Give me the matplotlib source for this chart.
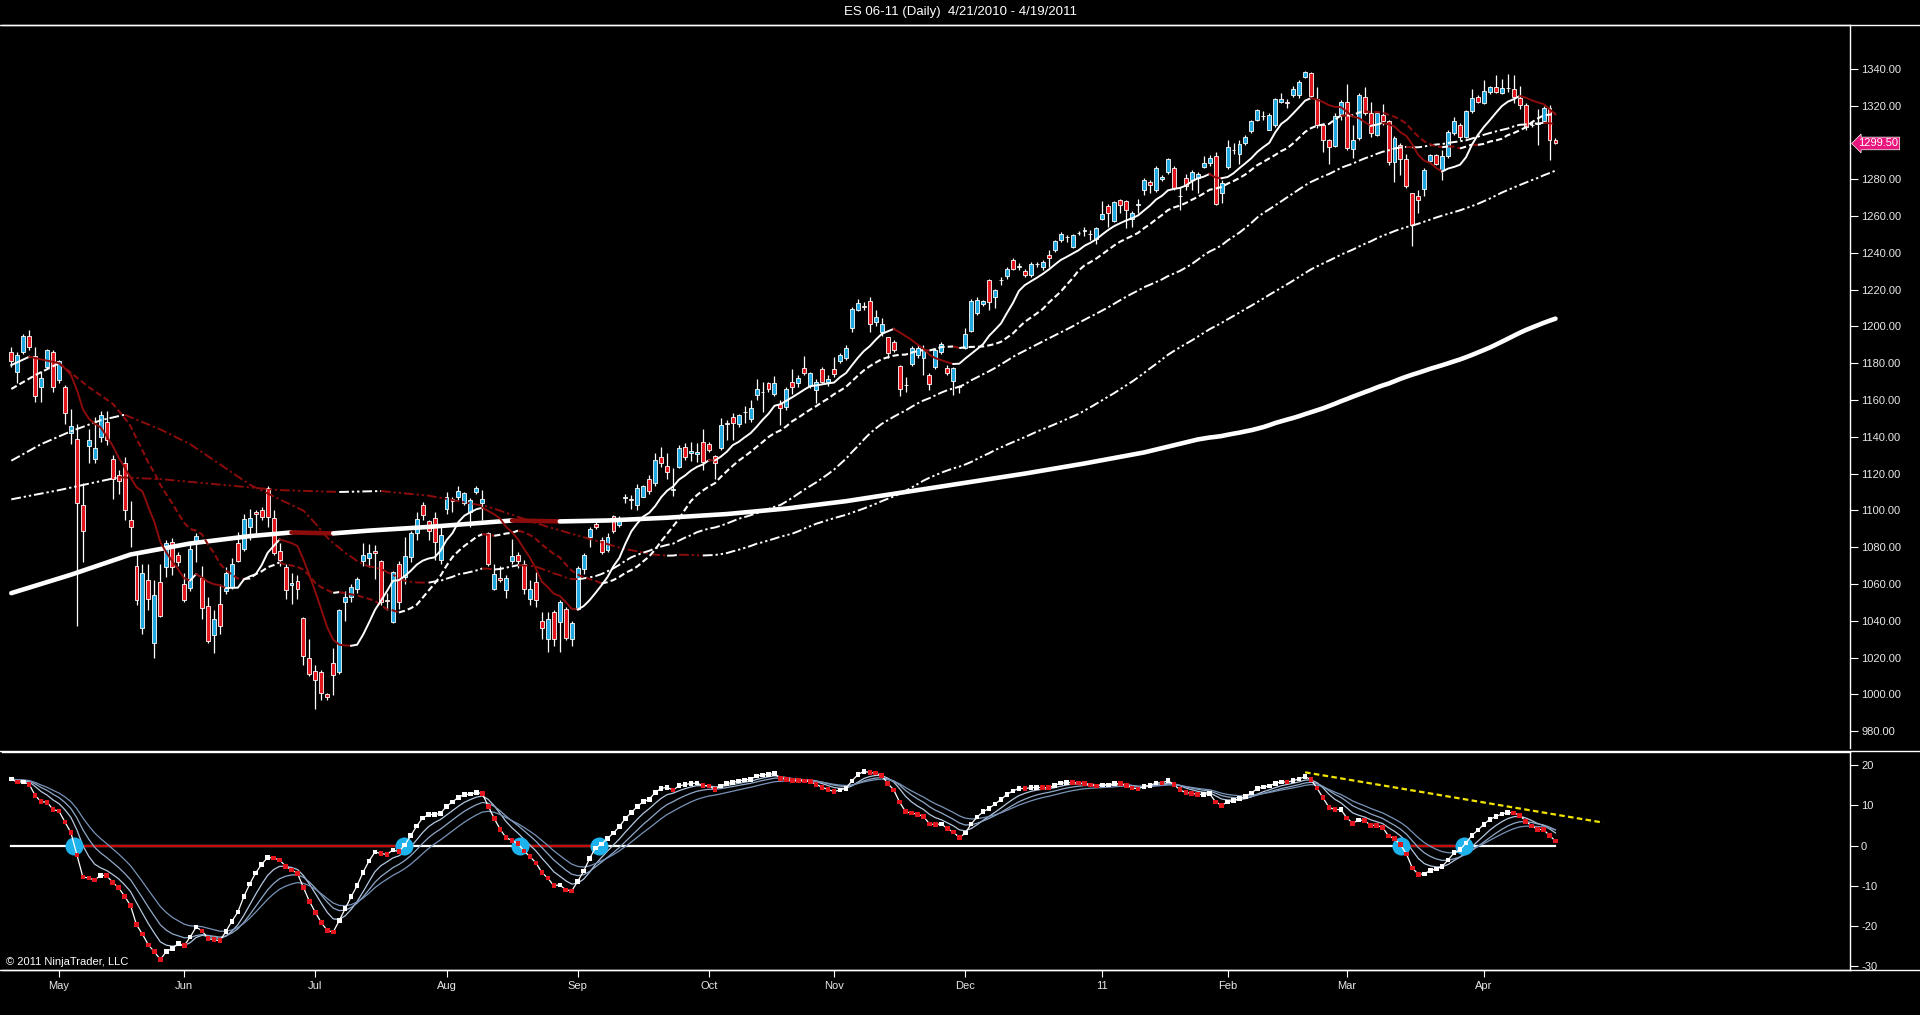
import numpy as np
import pandas as pd
import matplotlib
matplotlib.use("Agg")
import matplotlib.pyplot as plt
from matplotlib.lines import Line2D

plt.rcParams['font.family'] = ['Liberation Sans', 'DejaVu Sans']

title = 'ES 06-11 (Daily)  4/21/2010 - 4/19/2011'

# daily bars (one value per bar)
opens = [
    1186, 1175, 1186, 1195, 1184, 1167, 1178, 1186, 1171, 1167,
    1142, 1139, 1103, 1135, 1128, 1140, 1148, 1128, 1119, 1125.5,
    1095, 1070, 1036, 1062, 1028, 1061, 1069, 1083, 1076, 1060,
    1058, 1083, 1063, 1048, 1032, 1049, 1056, 1058.5, 1082, 1079,
    1091, 1099, 1100, 1112, 1096, 1078, 1069, 1059.5, 1061.5, 1041.5,
    1020, 1012.5, 1012, 1000, 1017, 1012, 1050, 1053, 1057, 1072.5,
    1074, 1078, 1072.5, 1051.5, 1039.5, 1071, 1064, 1074.5, 1087.5, 1103,
    1094, 1096, 1073, 1101, 1106, 1107, 1104, 1099, 1110, 1104,
    1087.5, 1057.5, 1063.5, 1056.5, 1072.5, 1075.5, 1071, 1052, 1061, 1040,
    1030, 1045, 1039.5, 1046.5, 1030, 1046.5, 1068, 1085.5, 1092.5, 1084,
    1078.5, 1097, 1092, 1106.5, 1106, 1103, 1107.5, 1117, 1115, 1129,
    1124, 1111, 1123.5, 1134.5, 1131, 1130.5, 1137, 1136, 1129.5, 1134,
    1147, 1151, 1147, 1153.5, 1149.5, 1163, 1164.5, 1169, 1163.5, 1158,
    1156, 1170, 1169, 1177.5, 1167.5, 1165.5, 1177, 1170, 1177, 1181,
    1183, 1199, 1209, 1211, 1214, 1202.5, 1197, 1194, 1191.5, 1178.5,
    1168, 1179.5, 1184.5, 1183, 1173.5, 1178, 1186, 1177.5, 1170.5, 1167,
    1188.5, 1197.5, 1207.5, 1212, 1225.5, 1216, 1225, 1227.5, 1236, 1232.5,
    1230, 1228, 1234, 1232.5, 1239, 1241.5, 1247, 1248.5, 1243, 1251,
    1252, 1250.5, 1247.5, 1258.5, 1265.5, 1257.5, 1268.5, 1268, 1258.5, 1266,
    1274, 1278.5, 1274, 1280, 1284, 1286, 1271, 1280.5, 1279.5, 1280.5,
    1286.5, 1289, 1292.5, 1272.5, 1286.5, 1296, 1294, 1300, 1306, 1312.5,
    1314.5, 1307, 1309.5, 1322, 1322, 1326, 1326, 1335.5, 1338, 1323.5,
    1309.5, 1301.5, 1298, 1315.5, 1322, 1296.5, 1302.5, 1325, 1316, 1304,
    1315, 1311.5, 1289.5, 1298.5, 1291, 1272.5, 1271, 1275, 1290, 1293,
    1285, 1292.5, 1305, 1309.5, 1303, 1317, 1325, 1321.5, 1327.5, 1330,
    1327, 1329.5, 1329, 1324, 1320.5, 1309.5, 1310, 1311.5, 1319, 1301.5,
]
highs = [
    1189, 1186, 1196, 1198, 1189, 1176, 1188, 1187, 1182, 1168,
    1155, 1147, 1115, 1144, 1151, 1154, 1154, 1130, 1122, 1129,
    1105, 1077, 1071, 1071, 1062, 1071, 1084, 1085, 1077.5, 1066,
    1082, 1087.5, 1070, 1053, 1046, 1060, 1069, 1074, 1088, 1098,
    1101, 1100, 1102, 1113, 1100, 1082, 1071, 1066, 1065, 1042,
    1030, 1016, 1013, 1000.5, 1025, 1046.5, 1056, 1060, 1064, 1082,
    1081.5, 1081, 1073, 1055, 1067, 1072.5, 1085.5, 1089, 1099, 1104.5,
    1095, 1099, 1091, 1110, 1107.5, 1113, 1110, 1106.5, 1113.5, 1111,
    1088, 1071, 1070, 1065, 1084.5, 1077.5, 1073, 1062, 1066.5, 1045,
    1045, 1046, 1051.5, 1047.5, 1040, 1069.5, 1077, 1091, 1094, 1085.5,
    1087.5, 1097.5, 1097, 1109, 1108.5, 1114.5, 1114, 1119, 1131, 1134.5,
    1131, 1123, 1135.5, 1136.5, 1137, 1136.5, 1144.5, 1137, 1130, 1150,
    1149, 1153, 1152.5, 1156.5, 1160, 1171.5, 1170, 1170, 1173, 1160,
    1167, 1177, 1173.5, 1184, 1175.5, 1171.5, 1178, 1173.5, 1183.5, 1185.5,
    1190, 1210.5, 1215, 1213.5, 1216, 1209, 1204.5, 1194.5, 1192.5, 1179,
    1172.5, 1189.5, 1190, 1190, 1174.5, 1188.5, 1191.5, 1179, 1178, 1168,
    1199, 1215, 1216, 1214.5, 1226, 1220.5, 1227, 1232.5, 1237, 1234.5,
    1231.5, 1235, 1235, 1236, 1241.5, 1247, 1251.5, 1249.5, 1250.5, 1252,
    1254, 1252.5, 1254, 1268, 1266.5, 1268, 1269.5, 1268.5, 1262.5, 1269.5,
    1280.5, 1279.5, 1287, 1282.5, 1291.5, 1287, 1276, 1283, 1285, 1284,
    1292.5, 1293, 1295, 1279.5, 1301.5, 1299.5, 1301.5, 1304, 1312, 1318,
    1317, 1316, 1324, 1327, 1323.5, 1330.5, 1334, 1339, 1338.5, 1330,
    1310.5, 1302, 1316, 1323, 1332, 1309.5, 1327, 1330, 1322, 1317,
    1321, 1312, 1303.5, 1299.5, 1293.5, 1272.5, 1274, 1286, 1294, 1293.5,
    1296, 1307, 1314, 1310.5, 1317.5, 1329, 1326, 1334, 1330.5, 1336.5,
    1334.5, 1337, 1336.5, 1330.5, 1321.5, 1311.5, 1318.5, 1320, 1320.5, 1302.5,
]
lows = [
    1178, 1169, 1185, 1187, 1159, 1159, 1177, 1164.5, 1169, 1147,
    1136, 1037, 1072, 1126, 1126, 1137, 1135.5, 1106, 1109, 1095,
    1080, 1048.5, 1033, 1046, 1020, 1042, 1064, 1065, 1070, 1050,
    1056, 1072, 1041, 1028, 1022.5, 1033, 1054.5, 1057.5, 1072, 1078,
    1084, 1087.5, 1094.5, 1091, 1075.5, 1069.5, 1052, 1049, 1052, 1016,
    1010, 992, 997, 997, 999.5, 1011, 1040, 1050, 1055, 1070,
    1069, 1062.5, 1048.5, 1046, 1039, 1046.5, 1060, 1072, 1084, 1094.5,
    1084, 1073, 1071, 1098, 1099, 1105.5, 1103, 1091, 1109, 1094.5,
    1070, 1056.5, 1061, 1052.5, 1071, 1068.5, 1054.5, 1048.5, 1047.5, 1030,
    1023, 1026, 1023, 1029.5, 1026, 1046, 1065.5, 1080, 1090, 1076.5,
    1077.5, 1087.5, 1091, 1104, 1101, 1100, 1107, 1109, 1113, 1123.5,
    1117, 1108, 1123, 1127.5, 1127, 1126.5, 1122, 1132, 1117, 1133,
    1138, 1138, 1145.5, 1147.5, 1148, 1160, 1153.5, 1164.5, 1162, 1146.5,
    1154.5, 1163.5, 1167, 1173.5, 1166.5, 1158.5, 1169, 1167.5, 1172.5, 1180,
    1181.5, 1197, 1208.5, 1209, 1197, 1200.5, 1195, 1183, 1186, 1162,
    1164.5, 1178.5, 1183, 1173.5, 1165.5, 1177, 1185, 1173.5, 1162.5, 1164,
    1187.5, 1197, 1206, 1211, 1209, 1210, 1222.5, 1226, 1230.5, 1230.5,
    1227, 1227, 1232.5, 1230.5, 1232.5, 1240.5, 1246, 1246, 1242.5, 1249.5,
    1249, 1247, 1245, 1258, 1254, 1257, 1261.5, 1253.5, 1254, 1261.5,
    1271.5, 1272.5, 1273, 1279, 1283, 1274, 1263.5, 1274, 1274, 1272.5,
    1286, 1287.5, 1266, 1267, 1285.5, 1294, 1288.5, 1298.5, 1305, 1311.5,
    1312, 1307, 1308.5, 1321.5, 1319, 1325, 1324, 1335, 1325, 1308,
    1295, 1288.5, 1297.5, 1312, 1296, 1291.5, 1301.5, 1315, 1303, 1303.5,
    1309.5, 1288, 1278.5, 1282.5, 1275.5, 1243.5, 1261.5, 1271, 1289, 1288,
    1279.5, 1291.5, 1304, 1301.5, 1302.5, 1316, 1321.5, 1321, 1326.5, 1327,
    1326.5, 1327.5, 1321.5, 1318, 1307, 1308.5, 1298.5, 1310.5, 1290.5, 1299,
]
closes = [
    1181, 1184.5, 1195, 1189, 1162, 1172, 1187, 1167, 1181, 1153,
    1146, 1104, 1089, 1138, 1134, 1152, 1138, 1117, 1116, 1100,
    1091, 1051, 1066, 1052, 1054, 1042.5, 1082, 1069, 1072, 1051,
    1079, 1086, 1047, 1029, 1041, 1037, 1066, 1071, 1072.5, 1095.5,
    1096, 1098, 1096.5, 1096.5, 1077, 1073, 1056.5, 1060.5, 1057, 1021,
    1011, 1008, 1000.5, 998.5, 1010.5, 1046, 1053, 1058.5, 1062.5, 1075.5,
    1077, 1077, 1050, 1050.5, 1066.5, 1050, 1075, 1087.5, 1095.5, 1097.5,
    1089, 1083, 1086.5, 1107.5, 1105, 1110.5, 1109.5, 1105.5, 1112, 1106,
    1071, 1065.5, 1062, 1063.5, 1075, 1072.5, 1057.5, 1057.5, 1051.5, 1036,
    1041, 1030, 1050, 1030.5, 1038.5, 1068.5, 1076, 1090, 1091, 1077.5,
    1085.5, 1089, 1096, 1107, 1105.5, 1112, 1113, 1110.5, 1127.5, 1125.5,
    1121, 1111.5, 1134, 1129, 1132.5, 1132, 1126.5, 1133, 1126, 1146.5,
    1147.5, 1147.5, 1152, 1153.5, 1155.5, 1166, 1164.5, 1166, 1169.5, 1155.5,
    1166, 1167, 1172, 1174.5, 1174.5, 1170, 1170, 1171.5, 1174, 1184.5,
    1188.5, 1209.5, 1213, 1210.5, 1201.5, 1205, 1201.5, 1185.5, 1187, 1166,
    1168, 1188.5, 1188.5, 1187, 1168.5, 1187, 1190.5, 1174.5, 1177.5, 1167.5,
    1196, 1214, 1214.5, 1214, 1213.5, 1220, 1225, 1231.5, 1231.5, 1233,
    1228, 1234, 1234, 1235, 1237, 1246.5, 1250.5, 1248.5, 1249.5, 1251,
    1252.5, 1250.5, 1253.5, 1261, 1261.5, 1267.5, 1266, 1263.5, 1261.5, 1266.5,
    1279.5, 1277, 1286, 1281.5, 1291, 1275.5, 1271, 1276.5, 1284, 1283,
    1289, 1291.5, 1266.5, 1278, 1297.5, 1296, 1299, 1303, 1311.5, 1317.5,
    1314.5, 1315, 1323.5, 1323.5, 1321.5, 1329, 1333, 1338.5, 1325.5, 1309.5,
    1301.5, 1297.5, 1314.5, 1322, 1297, 1301.5, 1326, 1316, 1305, 1316,
    1311.5, 1289.5, 1302.5, 1291, 1276.5, 1255, 1269, 1285, 1293, 1288.5,
    1292.5, 1305.5, 1311.5, 1303, 1317, 1324, 1322, 1328, 1330, 1327.5,
    1329.5, 1329.5, 1325, 1320.5, 1308.5, 1309.5, 1310.5, 1319, 1301.5, 1299.5,
]

# first bar of each month and its label
month_bars = [8, 29, 51, 73, 95, 117, 138, 160, 183, 204, 224, 247]
month_labels = ['May', 'Jun', 'Jul', 'Aug', 'Sep', 'Oct', 'Nov', 'Dec', '11', 'Feb', 'Mar', 'Apr']

price_ticks = [980, 1000, 1020, 1040, 1060, 1080, 1100, 1120, 1140, 1160, 1180,
               1200, 1220, 1240, 1260, 1280, 1320, 1340]
osc_ticks = [20, 10, 0, -10, -20, -30]

sma10_head_bars = [0, 3, 8]
sma10_head = [1179, 1183.5, 1180]
sma20_head_bars = [0, 4, 8, 13, 17]
sma20_head = [1166, 1173.5, 1180, 1167, 1158]
sma50_head_bars = [0, 5, 10, 15, 19, 25, 30, 35, 40, 45]
sma50_head = [1127, 1136, 1143, 1149, 1152, 1144, 1136, 1125, 1114, 1106]
sma100_head_bars = [0, 8, 18, 25, 35, 45, 55, 62, 70, 80, 90]
sma100_head = [1106, 1111, 1118, 1117, 1114, 1111, 1110, 1110.5, 1108, 1102, 1091]
sma200_head_bars = [0, 10, 20, 30, 40, 47, 54, 60, 70, 84, 92, 100, 110, 120, 130,
                    140, 150, 160, 170, 180, 190]
sma200_head = [1055, 1065, 1076, 1082, 1086, 1088, 1087.5, 1089, 1091, 1094.5, 1094,
               1094.5, 1096, 1098, 1101, 1105, 1110, 1115, 1120, 1125.5, 1131.5]

# MACD: fast / slow EMA levels at the first bar (oscillator reads 16.5 there)
ema_start = [1178.5, 1162.0]
signal_spans = [5, 9, 14]

# yellow trendline on the oscillator peaks
trend_bars = [217, 267]
trend_vals = [18.2, 5.7]

# ---------------------------------------------------------------------------
UP = '#1fa8e0'
DOWN = '#e2161c'
MA_RED = '#8c0c0c'
TXT = '#e8e8e8'

n = len(closes)
bars = np.arange(n)
o = np.array(opens, float)
c = np.array(closes, float)
h = np.maximum(np.array(highs, float), np.maximum(o, c))
l = np.minimum(np.array(lows, float), np.minimum(o, c))

W, H = 1920, 1015
fig = plt.figure(figsize=(W / 100, H / 100), dpi=100, facecolor='black')


def box(x0, y0, x1, y1):
    return [x0 / W, 1 - y1 / H, (x1 - x0) / W, (y1 - y0) / H]


ax = fig.add_axes(box(2, 25, 1850, 748), facecolor='black')
osc = fig.add_axes(box(2, 752, 1850, 970), facecolor='black', sharex=ax)

# candles
ax.vlines(bars, l, h, color='white', lw=0.9, zorder=2)
ax.bar(bars, np.abs(c - o), bottom=np.minimum(o, c), width=0.66,
       color=np.where(c >= o, UP, DOWN), edgecolor='white', linewidth=0.6, zorder=3)


def sma_line(period, head_bars, head_vals):
    full = pd.Series(c).rolling(period).mean().to_numpy()
    xs = np.concatenate([head_bars, bars[period - 1:]]).astype(float)
    ys = np.concatenate([head_vals, full[period - 1:]])
    return xs, ys


def draw_colored(axis, xs, ys, **kw):
    rising = np.diff(ys) >= 0
    s = 0
    for k in range(1, len(rising) + 1):
        if k == len(rising) or rising[k] != rising[s]:
            axis.plot(xs[s:k + 1], ys[s:k + 1], color='white' if rising[s] else MA_RED, **kw)
            s = k


draw_colored(ax, *sma_line(200, sma200_head_bars, sma200_head), lw=3.3, zorder=4,
             solid_capstyle='round')
draw_colored(ax, *sma_line(100, sma100_head_bars, sma100_head), lw=1.4, zorder=4,
             ls=(0, (5, 1.5, 1.2, 1.5, 1.2, 1.5)))
draw_colored(ax, *sma_line(50, sma50_head_bars, sma50_head), lw=1.4, zorder=4,
             ls=(0, (5, 1.5, 1.2, 1.5)))
draw_colored(ax, *sma_line(20, sma20_head_bars, sma20_head), lw=1.5, zorder=4,
             ls=(0, (3, 1.5)))
draw_colored(ax, *sma_line(10, sma10_head_bars, sma10_head), lw=1.4, zorder=4)

# oscillator (MACD)
def ema(vals, span, start):
    k = 2 / (span + 1)
    out = np.empty(len(vals))
    out[0] = start
    for i in range(1, len(vals)):
        out[i] = out[i - 1] + k * (vals[i] - out[i - 1])
    return out


macd = ema(c, 12, ema_start[0]) - ema(c, 26, ema_start[1])

sign = macd >= 0
cross_x, red_spans, start = [], [], None
for i in range(1, n):
    if sign[i] != sign[i - 1]:
        xc = i - 1 + macd[i - 1] / (macd[i - 1] - macd[i])
        cross_x.append(xc)
        if not sign[i]:
            start = xc
        elif start is not None:
            red_spans.append((start, xc))
            start = None

osc.plot([0, n - 1], [0, 0], color='white', lw=1.6, zorder=2)
for a, b in red_spans:
    osc.plot([a, b], [0, 0], color='#cc0a0a', lw=1.6, zorder=2.5)
for span, col in zip(signal_spans, ['#b4c8e0', '#8fa9c9', '#7893b8']):
    sig = pd.Series(macd).ewm(span=span, adjust=False).mean()
    osc.plot(bars, sig, color=col, lw=0.9, zorder=3)
osc.plot(cross_x, np.zeros(len(cross_x)), 'o', ms=13, color='#1db2ec', mew=0, zorder=4)
osc.plot(bars, macd, color='white', lw=0.9, zorder=5)
rising = np.r_[True, np.diff(macd) >= 0]
osc.scatter(bars, macd, marker='s', s=11, c=np.where(rising, 'white', DOWN),
            linewidths=0, zorder=6)
osc.plot(trend_bars, trend_vals, color='#f2e400', lw=1.6, ls=(0, (2.5, 1.5)), zorder=5)

# axes styling
ax.set_xlim(-1.56, 308.4)
ax.set_ylim(970.8, 1363.9)
osc.set_ylim(-30.97, 23.26)

for axis in (ax, osc):
    axis.spines['left'].set_visible(False)
    for side in ('top', 'bottom', 'right'):
        axis.spines[side].set_color('white')
        axis.spines[side].set_linewidth(1)
    axis.yaxis.tick_right()
    axis.tick_params(axis='y', colors='white', labelcolor=TXT, labelsize=8,
                     length=6, width=0.8, pad=2, direction='out')
ax.spines['bottom'].set_visible(False)

ax.set_yticks(price_ticks)
ax.set_yticklabels([f'{v:.2f}' for v in price_ticks])
ax.tick_params(axis='x', bottom=False, labelbottom=False)

osc.set_yticks(osc_ticks)
osc.set_yticklabels([str(v) for v in osc_ticks])
osc.set_xticks(month_bars)
osc.set_xticklabels(month_labels)
osc.tick_params(axis='x', colors='white', labelcolor=TXT, labelsize=8, length=5,
                width=0.8, pad=3, direction='out')

# last price marker
ax.annotate(f'{closes[-1]:.2f}', xy=(1, closes[-1]), xycoords=ax.get_yaxis_transform(),
            xytext=(6, 0), textcoords='offset points', ha='left', va='center',
            fontsize=8, color='white', annotation_clip=False, zorder=10,
            bbox=dict(boxstyle='larrow,pad=0.12', fc='#e8157c', ec='white', lw=0.5))

# full-width frame lines
for y in (25, 751, 970):
    fig.add_artist(Line2D([0, 1], [1 - y / H] * 2, transform=fig.transFigure,
                          color='white', lw=1))

fig.text(0.5, 1 - 12 / H, title, ha='center', va='center', color='white', fontsize=9.5)
osc.text(0.002, 0.012, '\u00a9 2011 NinjaTrader, LLC', transform=osc.transAxes,
         color='white', fontsize=8, ha='left', va='bottom')

fig.savefig('out.png', dpi=100, facecolor='black')
